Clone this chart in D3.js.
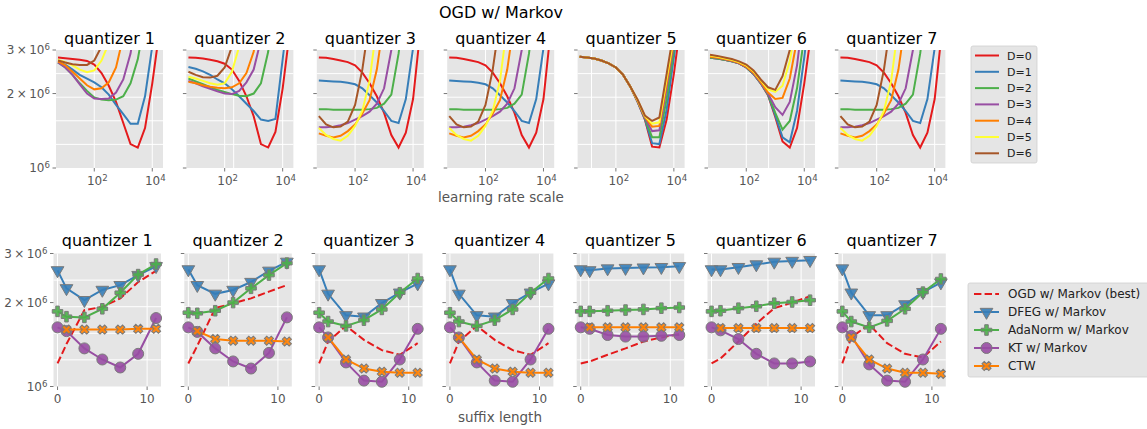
<!DOCTYPE html>
<html>
<head>
<meta charset="utf-8">
<script src="https://d3js.org/d3.v7.min.js"></script>
<style>
body { margin: 0; background: #fff; }
svg { font-family: 'DejaVu Sans', sans-serif; }
</style>
</head>
<body>
<svg id="chart" width="1147" height="429"></svg>
<script>
// ---- top row: OGD w/ Markov, loss vs learning rate scale (values in 1e6) ----
const lrExp = [0.75, 1.0, 1.25, 1.5, 1.75, 2.0, 2.25, 2.5, 2.75, 3.0, 3.25, 3.5, 3.75, 4.0, 4.25, 4.5];
const depthLabels = ["D=0", "D=1", "D=2", "D=3", "D=4", "D=5", "D=6"];

const lrQ1 = [
  [2.80, 2.78, 2.76, 2.74, 2.71, 2.62, 2.42, 2.15, 1.85, 1.52, 1.25, 1.21, 1.45, 2.2, 3.6, 6],
  [2.67, 2.62, 2.50, 2.38, 2.30, 2.22, 2.12, 1.98, 1.80, 1.65, 1.51, 1.51, 1.95, 3.1, 5, 8],
  [2.67, 2.55, 2.38, 2.20, 2.05, 1.93, 1.89, 1.88, 1.89, 1.95, 2.2, 2.75, 4, 6, 8, 10],
  [2.67, 2.55, 2.38, 2.18, 2.00, 1.91, 1.90, 1.91, 2.02, 2.28, 2.9, 4.5, 7, 9, 10, 12],
  [2.70, 2.60, 2.45, 2.30, 2.16, 2.08, 2.10, 2.22, 2.55, 3.4, 5, 7, 9, 10, 12, 14],
  [2.74, 2.68, 2.60, 2.50, 2.44, 2.48, 2.72, 3.2, 4.5, 6, 8, 10, 12, 14, 16, 18],
  [2.72, 2.67, 2.63, 2.61, 2.61, 2.72, 3.1, 4, 5, 7, 9, 11, 13, 15, 17, 19]
];
const lrQ2 = [
  [2.80, 2.79, 2.77, 2.74, 2.70, 2.64, 2.50, 2.25, 1.95, 1.62, 1.25, 1.21, 1.40, 2.1, 3.6, 6],
  [2.56, 2.52, 2.46, 2.38, 2.28, 2.20, 2.08, 1.95, 1.82, 1.70, 1.57, 1.55, 1.58, 2.75, 5, 8],
  [2.30, 2.24, 2.18, 2.12, 2.07, 2.03, 1.99, 1.96, 1.95, 2.00, 2.2, 2.95, 5, 7, 9, 11],
  [2.25, 2.20, 2.14, 2.09, 2.04, 2.00, 1.99, 2.05, 2.22, 2.5, 3.3, 5, 7, 9, 11, 13],
  [2.23, 2.20, 2.16, 2.13, 2.11, 2.10, 2.12, 2.20, 2.42, 2.95, 4.5, 6, 8, 10, 12, 14],
  [2.34, 2.30, 2.25, 2.20, 2.17, 2.20, 2.45, 3.1, 4.5, 6, 8, 10, 12, 14, 16, 18],
  [2.45, 2.38, 2.33, 2.32, 2.36, 2.55, 3.1, 4.5, 6, 8, 10, 12, 14, 16, 18, 20]
];
const lrQ3 = [
  [2.80, 2.79, 2.76, 2.72, 2.68, 2.60, 2.43, 2.20, 1.95, 1.67, 1.36, 1.21, 1.39, 1.9, 3.6, 6],
  [2.26, 2.25, 2.24, 2.23, 2.21, 2.18, 2.10, 1.97, 1.84, 1.70, 1.55, 1.52, 1.90, 3.05, 6, 9],
  [1.73, 1.73, 1.72, 1.72, 1.72, 1.72, 1.72, 1.73, 1.75, 1.82, 1.98, 2.9, 5, 7, 9, 11],
  [1.46, 1.46, 1.47, 1.49, 1.52, 1.57, 1.62, 1.69, 1.82, 2.1, 3.0, 5, 7, 9, 11, 13],
  [1.38, 1.35, 1.33, 1.35, 1.41, 1.50, 1.66, 1.88, 2.5, 4, 6, 8, 10, 12, 14, 16],
  [1.45, 1.36, 1.31, 1.29, 1.35, 1.48, 1.70, 2.25, 3.8, 6, 8, 10, 12, 14, 16, 18],
  [1.62, 1.50, 1.46, 1.47, 1.54, 1.80, 2.50, 4.0, 6, 8, 10, 12, 14, 16, 18, 20]
];
const lrQ4 = lrQ3;
const lrQ5 = [
  [2.82, 2.80, 2.77, 2.72, 2.65, 2.55, 2.38, 2.13, 1.85, 1.57, 1.22, 1.21, 1.57, 2.4, 4.0, 6],
  [2.82, 2.80, 2.77, 2.72, 2.65, 2.55, 2.38, 2.13, 1.85, 1.58, 1.26, 1.25, 1.72, 2.8, 4.5, 7],
  [2.82, 2.80, 2.77, 2.72, 2.65, 2.55, 2.38, 2.13, 1.86, 1.59, 1.33, 1.33, 1.90, 3.0, 5, 8],
  [2.82, 2.80, 2.77, 2.72, 2.65, 2.55, 2.38, 2.13, 1.86, 1.60, 1.41, 1.42, 2.10, 3.2, 6, 9],
  [2.82, 2.80, 2.77, 2.72, 2.65, 2.55, 2.38, 2.13, 1.87, 1.61, 1.47, 1.48, 2.20, 3.3, 6, 9],
  [2.82, 2.80, 2.77, 2.72, 2.65, 2.55, 2.38, 2.13, 1.88, 1.62, 1.51, 1.53, 2.30, 3.4, 7, 10],
  [2.82, 2.80, 2.77, 2.72, 2.65, 2.55, 2.38, 2.13, 1.89, 1.63, 1.55, 1.60, 2.40, 3.6, 8, 11]
];
const lrQ6 = [
  [2.79, 2.77, 2.74, 2.70, 2.65, 2.55, 2.40, 2.20, 1.97, 1.61, 1.28, 1.21, 1.45, 2.2, 3.6, 6],
  [2.79, 2.77, 2.74, 2.70, 2.65, 2.55, 2.40, 2.20, 1.98, 1.63, 1.33, 1.27, 1.70, 2.8, 5, 8],
  [2.79, 2.77, 2.74, 2.70, 2.65, 2.55, 2.40, 2.20, 1.99, 1.67, 1.43, 1.55, 2.10, 3.4, 6, 9],
  [2.81, 2.79, 2.75, 2.71, 2.65, 2.56, 2.41, 2.21, 2.00, 1.76, 1.64, 1.85, 2.60, 4.5, 7, 9],
  [2.82, 2.80, 2.76, 2.72, 2.66, 2.57, 2.43, 2.23, 2.02, 1.90, 1.92, 2.30, 3.3, 5, 7, 9],
  [2.85, 2.82, 2.78, 2.74, 2.68, 2.60, 2.46, 2.26, 2.08, 2.03, 2.15, 2.70, 4, 6, 8, 10],
  [2.87, 2.84, 2.80, 2.76, 2.70, 2.62, 2.48, 2.28, 2.12, 2.07, 2.35, 3.00, 5, 7, 9, 11]
];
const lrQ7 = lrQ3;
const lrPanels = [lrQ1, lrQ2, lrQ3, lrQ4, lrQ5, lrQ6, lrQ7];

// ---- bottom row: loss vs suffix length (values in 1e6) ----
const suffixX = [0, 1, 3, 5, 7, 9, 11];
const ctwX = [1, 3, 5, 7, 9, 11];
const methodNames = ["OGD w/ Markov (best)", "DFEG w/ Markov", "AdaNorm w/ Markov", "KT w/ Markov", "CTW"];

const ogdBest = [
  [1.21, 1.42, 1.88, 1.93, 2.07, 2.37, 2.60],
  [1.21, 1.40, 1.91, 1.99, 2.07, 2.19, 2.31],
  [1.21, 1.45, 1.65, 1.47, 1.35, 1.30, 1.43],
  [1.21, 1.45, 1.65, 1.47, 1.35, 1.30, 1.43],
  [1.21, 1.23, 1.30, 1.37, 1.45, 1.50, 1.54],
  [1.21, 1.26, 1.45, 1.68, 1.91, 2.00, 2.11],
  [1.21, 1.50, 1.67, 1.43, 1.31, 1.27, 1.45]
];
const dfeg = [
  [2.61, 2.25, 2.04, 2.22, 2.31, 2.51, 2.70],
  [2.63, 2.31, 2.15, 2.22, 2.37, 2.60, 2.80],
  [2.63, 2.15, 1.80, 1.78, 1.99, 2.17, 2.34],
  [2.63, 2.15, 1.80, 1.78, 1.99, 2.17, 2.34],
  [2.63, 2.61, 2.65, 2.66, 2.67, 2.68, 2.70],
  [2.63, 2.63, 2.68, 2.74, 2.80, 2.82, 2.84],
  [2.65, 2.17, 1.80, 1.80, 1.97, 2.18, 2.36]
];
const adaNorm = [
  [1.86, 1.78, 1.77, 1.90, 2.17, 2.52, 2.75],
  [1.84, 1.83, 1.87, 2.00, 2.25, 2.51, 2.77],
  [1.84, 1.71, 1.65, 1.73, 1.89, 2.17, 2.44],
  [1.84, 1.71, 1.65, 1.73, 1.89, 2.17, 2.44],
  [1.86, 1.86, 1.87, 1.88, 1.89, 1.91, 1.92],
  [1.86, 1.87, 1.91, 1.94, 1.99, 2.01, 2.04],
  [1.86, 1.71, 1.63, 1.72, 1.90, 2.18, 2.43]
];
const ktMarkov = [
  [1.63, 1.58, 1.37, 1.25, 1.17, 1.31, 1.76],
  [1.63, 1.57, 1.37, 1.23, 1.16, 1.32, 1.77],
  [1.63, 1.50, 1.22, 1.05, 1.04, 1.25, 1.61],
  [1.63, 1.50, 1.22, 1.05, 1.04, 1.25, 1.61],
  [1.63, 1.61, 1.53, 1.51, 1.51, 1.52, 1.53],
  [1.63, 1.59, 1.48, 1.31, 1.21, 1.21, 1.23],
  [1.63, 1.52, 1.20, 1.05, 1.04, 1.25, 1.61]
];
const ctw = [
  [1.60, 1.60, 1.60, 1.60, 1.61, 1.61],
  [1.58, 1.48, 1.46, 1.46, 1.46, 1.45],
  [1.50, 1.25, 1.16, 1.13, 1.12, 1.12],
  [1.50, 1.25, 1.16, 1.13, 1.12, 1.12],
  [1.63, 1.63, 1.63, 1.63, 1.63, 1.63],
  [1.62, 1.62, 1.62, 1.62, 1.62, 1.62],
  [1.50, 1.25, 1.16, 1.12, 1.12, 1.11]
];

// ticks / grid
const yTicks = [1, 2, 3];
const yGrid = [1.246, 1.552, 1.933, 2.408];
const lrTickExp = [2, 4];
const suffixTicks = [0, 10];
const topExtraGrid = [[], [2.31], [], [], [1.16], [2.77], []];
const botExtraGrid = [[], [4.5], [], [], [0.9], [6.3], []];

// ---- drawing ----
const svg = d3.select("#chart");
const colors = ["#e41a1c", "#377eb8", "#4daf4a", "#984ea3", "#ff7f00", "#ffff33", "#a65628"];
const methodColors = ["#e41a1c", "#377eb8", "#4daf4a", "#984ea3", "#ff7f00"];
const tickColor = "#555555";

const topL = 56, topPitch = 130.4, topW = 107, topY0 = 50, topY1 = 168;
const botL = 53.5, botPitch = 130.8, botW = 107.5, botY0 = 253.5, botY1 = 386.5;

const yTop = d3.scaleLog().domain([1, 3]).range([topY1, topY0]);
const yBot = d3.scaleLog().domain([1, 3]).range([botY1, botY0]);
const xLr = d3.scaleLog().domain([Math.pow(10, 0.68), Math.pow(10, 4.37)]).range([0, topW]);
const xSuf = d3.scaleLinear().domain([-0.45, 11.55]).range([0, botW]);

function sup(text, base, exp) {
  text.append("tspan").text(base);
  text.append("tspan").attr("dy", "-0.45em").attr("font-size", "0.72em").text(exp);
}

function yLabel(v) { return v === 1 ? ["10", "6"] : [v + "\u2009\u00d7\u200910", "6"]; }

function panelFrame(g, w, y, y0, y1, xs, vGrid, showYLabels, id) {
  g.append("rect").attr("width", w).attr("y", y0).attr("height", y1 - y0).attr("fill", "#e5e5e5");
  g.selectAll(".hg").data(yGrid).enter().append("line")
    .attr("x1", 0).attr("x2", w).attr("y1", d => y(d)).attr("y2", d => y(d))
    .attr("stroke", "#fff").attr("stroke-width", 1);
  g.selectAll(".vg").data(vGrid).enter().append("line")
    .attr("x1", d => xs(d)).attr("x2", d => xs(d)).attr("y1", y0).attr("y2", y1)
    .attr("stroke", "#fff").attr("stroke-width", 1);
  g.selectAll(".yt").data(yTicks).enter().append("line")
    .attr("x1", -3.5).attr("x2", 0).attr("y1", d => y(d)).attr("y2", d => y(d))
    .attr("stroke", tickColor).attr("stroke-width", 0.8);
  if (showYLabels) {
    yTicks.forEach(v => {
      const t = g.append("text").attr("x", -6).attr("y", y(v) + 4).attr("text-anchor", "end")
        .attr("font-size", 12).attr("fill", tickColor);
      const l = yLabel(v);
      sup(t, l[0], l[1]);
    });
  }
  g.append("clipPath").attr("id", id).append("rect")
    .attr("width", w).attr("y", y0).attr("height", y1 - y0);
}

// title
svg.append("text").attr("x", 501).attr("y", 18).attr("text-anchor", "middle")
  .attr("font-size", 16).attr("fill", "#000").text("OGD w/ Markov");

const lineLr = d3.line().x((d, i) => xLr(Math.pow(10, lrExp[i]))).y(d => yTop(d));

lrPanels.forEach((curves, p) => {
  const g = svg.append("g").attr("transform", `translate(${topL + p * topPitch},0)`);
  const vGrid = lrTickExp.map(e => Math.pow(10, e)).concat(topExtraGrid[p].map(e => Math.pow(10, e)));
  panelFrame(g, topW, yTop, topY0, topY1, xLr, vGrid, p === 0, "clipT" + p);
  g.append("text").attr("x", topW / 2).attr("y", 43.5).attr("text-anchor", "middle")
    .attr("font-size", 16).attr("fill", "#000").text("quantizer " + (p + 1));
  lrTickExp.forEach(e => {
    const x = xLr(Math.pow(10, e));
    g.append("line").attr("x1", x).attr("x2", x).attr("y1", topY1).attr("y2", topY1 + 3.5)
      .attr("stroke", tickColor).attr("stroke-width", 0.8);
    const t = g.append("text").attr("x", x + 3).attr("y", 185).attr("text-anchor", "middle")
      .attr("font-size", 12).attr("fill", tickColor);
    sup(t, "10", String(e));
  });
  const cg = g.append("g").attr("clip-path", `url(#clipT${p})`);
  curves.forEach((vals, k) => {
    cg.append("path").attr("d", lineLr(vals)).attr("fill", "none")
      .attr("stroke", colors[k]).attr("stroke-width", 2);
  });
});

svg.append("text").attr("x", 501).attr("y", 202).attr("text-anchor", "middle")
  .attr("font-size", 13.5).attr("fill", tickColor).text("learning rate scale");

// top legend
const lg1 = svg.append("g");
lg1.append("rect").attr("x", 971).attr("y", 46).attr("width", 66).attr("height", 117)
  .attr("rx", 2).attr("fill", "#e5e5e5").attr("stroke", "#cfcfcf").attr("stroke-width", 0.8);
depthLabels.forEach((lab, k) => {
  const y = 55.5 + k * 16.3;
  lg1.append("line").attr("x1", 975).attr("x2", 999).attr("y1", y).attr("y2", y)
    .attr("stroke", colors[k]).attr("stroke-width", 2);
  lg1.append("text").attr("x", 1007).attr("y", y + 4).attr("font-size", 11).attr("fill", "#222").text(lab);
});

// marker shapes
const markerSym = [
  null,
  d3.symbol().type(d3.symbolTriangle).size(70),
  d3.symbol().type(d3.symbolCross).size(62),
  d3.symbol().type(d3.symbolCircle).size(95),
  d3.symbol().type(d3.symbolCross).size(52)
];
const markerRot = [0, 180, 0, 0, 45];

function drawMarker(g, k, x, y) {
  g.append("path").attr("d", markerSym[k]())
    .attr("transform", `translate(${x},${y}) rotate(${markerRot[k]})`)
    .attr("fill", methodColors[k]).attr("fill-opacity", 0.9)
    .attr("stroke", "#7a7a7a").attr("stroke-width", 1);
}

const lineSuf = d3.line().x(d => xSuf(d[0])).y(d => yBot(d[1]));

for (let p = 0; p < 7; p++) {
  const g = svg.append("g").attr("transform", `translate(${botL + p * botPitch},0)`);
  panelFrame(g, botW, yBot, botY0, botY1, xSuf, suffixTicks.concat(botExtraGrid[p]), p === 0, "clipB" + p);
  g.append("text").attr("x", botW / 2).attr("y", 246).attr("text-anchor", "middle")
    .attr("font-size", 16).attr("fill", "#000").text("quantizer " + (p + 1));
  suffixTicks.forEach(v => {
    const x = xSuf(v);
    g.append("line").attr("x1", x).attr("x2", x).attr("y1", botY1).attr("y2", botY1 + 3.5)
      .attr("stroke", tickColor).attr("stroke-width", 0.8);
    g.append("text").attr("x", x).attr("y", 403).attr("text-anchor", "middle")
      .attr("font-size", 12).attr("fill", tickColor).text(v);
  });
  const series = [ogdBest[p], dfeg[p], adaNorm[p], ktMarkov[p], ctw[p]];
  series.forEach((vals, k) => {
    const xs = k === 4 ? ctwX : suffixX;
    const pts = vals.map((v, i) => [xs[i], v]);
    g.append("path").attr("d", lineSuf(pts)).attr("fill", "none")
      .attr("stroke", methodColors[k]).attr("stroke-width", 2)
      .attr("stroke-dasharray", k === 0 ? "7.4,3.2" : null);
    if (k > 0) pts.forEach(d => drawMarker(g, k, xSuf(d[0]), yBot(d[1])));
  });
}

svg.append("text").attr("x", 500).attr("y", 422).attr("text-anchor", "middle")
  .attr("font-size", 13.5).attr("fill", tickColor).text("suffix length");

// bottom legend
const lg2 = svg.append("g");
lg2.append("rect").attr("x", 968).attr("y", 283).attr("width", 190).attr("height", 94)
  .attr("rx", 2).attr("fill", "#e5e5e5").attr("stroke", "#cfcfcf").attr("stroke-width", 0.8);
methodNames.forEach((lab, k) => {
  const y = 294 + k * 18;
  lg2.append("line").attr("x1", 974).attr("x2", 999).attr("y1", y).attr("y2", y)
    .attr("stroke", methodColors[k]).attr("stroke-width", 2)
    .attr("stroke-dasharray", k === 0 ? "7.4,3.2" : null);
  if (k > 0) drawMarker(lg2, k, 986.5, y);
  lg2.append("text").attr("x", 1008).attr("y", y + 4.3).attr("font-size", 12).attr("fill", "#222").text(lab);
});
</script>
</body>
</html>
